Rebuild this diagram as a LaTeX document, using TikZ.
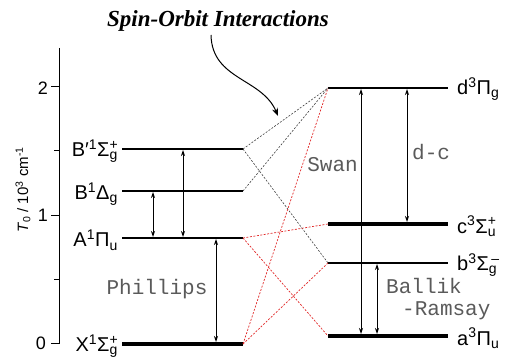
\documentclass[tikz,border=0pt]{standalone}
\usepackage{fontspec}
\setmainfont{Liberation Sans}
\newfontfamily\monofont{Liberation Mono}
\newfontfamily\titlefont{Liberation Serif}
\usetikzlibrary{arrows.meta}
\definecolor{dred}{RGB}{225,40,40}
\definecolor{tgray}{RGB}{90,90,90}
\newcommand\supsub[2]{\rlap{\textsuperscript{#1}}\textsubscript{#2}}
\begin{document}
\begin{tikzpicture}[x=1pt,y=-1pt,
  lvl/.style={line width=1.3pt},
  thicklvl/.style={line width=4.5pt},
  lbl/.style={font=\fontsize{20}{22}\selectfont, anchor=west, inner sep=0pt},
  lbll/.style={font=\fontsize{20}{22}\selectfont, anchor=east, inner sep=0pt},
  tr/.style={line width=0.9pt, {Stealth[length=6pt,width=4pt]}-{Stealth[length=6pt,width=4pt]}},
  blk/.style={dash pattern=on 2pt off 1.5pt, line width=0.6pt, black!75},
  red/.style={dash pattern=on 2pt off 1.5pt, line width=0.7pt, dred},
  mono/.style={font=\monofont\fontsize{21}{23}\selectfont, text=tgray, inner sep=0pt, text height=1.4ex, text depth=0.2ex},
  tick/.style={line width=1pt}
  ]
\useasboundingbox (0,0) rectangle (508,358);
% axis
\draw[line width=1pt] (59,48) -- (59,344);
\foreach \y in {87,215,343} \draw[tick] (51,\y) -- (59,\y);
\foreach \y in {151,279} \draw[tick] (54,\y) -- (59,\y);
\node[font=\fontsize{18}{20}\selectfont, anchor=east, inner sep=0pt] (t2) at (48,88) {2};
\node[font=\fontsize{18}{20}\selectfont, anchor=east, inner sep=0pt] (t1) at (48,215) {1};
\node[font=\fontsize{18}{20}\selectfont, anchor=east, inner sep=0pt] (t0) at (46,343) {0};
\node[rotate=90, font=\fontsize{15}{17}\selectfont, inner sep=0pt] (ylab) at (23,190) {\textit{T}\textsubscript{0} / 10\textsuperscript{3} cm\textsuperscript{-1}};
% left levels
\coordinate (Bpl) at (122,149); \coordinate (Bpr) at (243,149);
\coordinate (Bl) at (122,191); \coordinate (Br) at (243,191);
\coordinate (Al) at (122,238); \coordinate (Ar) at (243,238);
\coordinate (Xl) at (122,344); \coordinate (Xr) at (243,344);
\draw[lvl] (Bpl) -- (Bpr);
\draw[lvl] (Bl) -- (Br);
\draw[lvl] (Al) -- (Ar);
\draw[thicklvl] (Xl) -- (Xr);
\node[lbll] (BpL) at (118,151) {B′\textsuperscript{1}Σ\supsub{+}{g}};
\node[lbll] (BL) at (118,194) {B\textsuperscript{1}Δ\textsubscript{g}};
\node[lbll] (AL) at (118,240) {A\textsuperscript{1}Π\textsubscript{u}};
\node[lbll] (XL) at (118,346) {X\textsuperscript{1}Σ\supsub{+}{g}};
% right levels
\coordinate (dl) at (328,88); \coordinate (dr) at (448,88);
\coordinate (cl) at (328,224); \coordinate (cr) at (448,224);
\coordinate (bl) at (328,263); \coordinate (br) at (448,263);
\coordinate (al) at (328,336); \coordinate (ar) at (448,336);
\draw[lvl] (dl) -- (dr);
\draw[thicklvl] (cl) -- (cr);
\draw[lvl] (bl) -- (br);
\draw[thicklvl] (al) -- (ar);
\node[lbl] (dL) at (457,89) {d\textsuperscript{3}Π\textsubscript{g}};
\node[lbl] (cL) at (457,226) {c\textsuperscript{3}Σ\supsub{+}{u}};
\node[lbl] (bL) at (457,265) {b\textsuperscript{3}Σ\supsub{\,–}{g}};
\node[lbl] (aL) at (457,338) {a\textsuperscript{3}Π\textsubscript{u}};
% spin-orbit connectors
\draw[blk] (Bpr) -- (dl);
\draw[blk] (Br) -- (dl);
\draw[blk] (Bpr) -- (bl);
\draw[red] (Ar) -- (cl);
\draw[red] (Ar) -- (al);
\draw[red] (Xr) -- (dl);
\draw[red] (Xr) -- (bl);
% transitions
\draw[tr] (153,192) -- (153,237);
\draw[tr] (183,150) -- (183,237);
\draw[tr] (216,239) -- (216,342);
\draw[tr] (361,89) -- (361,334);
\draw[tr] (407,89) -- (407,222);
\draw[tr] (377,264) -- (377,334);
% transition labels
\node[mono] (ph) at (157,291) {Phillips};
\node[mono, anchor=east] (sw) at (358,168) {Swan};
\node[mono, anchor=west] (dc) at (412,156) {d-c};
\node[mono, anchor=west] (ba) at (386,290) {Ballik};
\node[mono, anchor=west] (ra) at (402,312) {-Ramsay};
% title
\node[font=\titlefont\bfseries\itshape\fontsize{23}{25}\selectfont, inner sep=0pt] (title) at (218,21) {Spin-Orbit Interactions};
\coordinate (cs) at (211,35);
\coordinate (ce) at (278,116);
\draw[line width=1pt, -{Stealth[length=8pt,width=6pt]}] (cs) .. controls (212,80) and (262,78) .. (ce);
\end{tikzpicture}
\end{document}
